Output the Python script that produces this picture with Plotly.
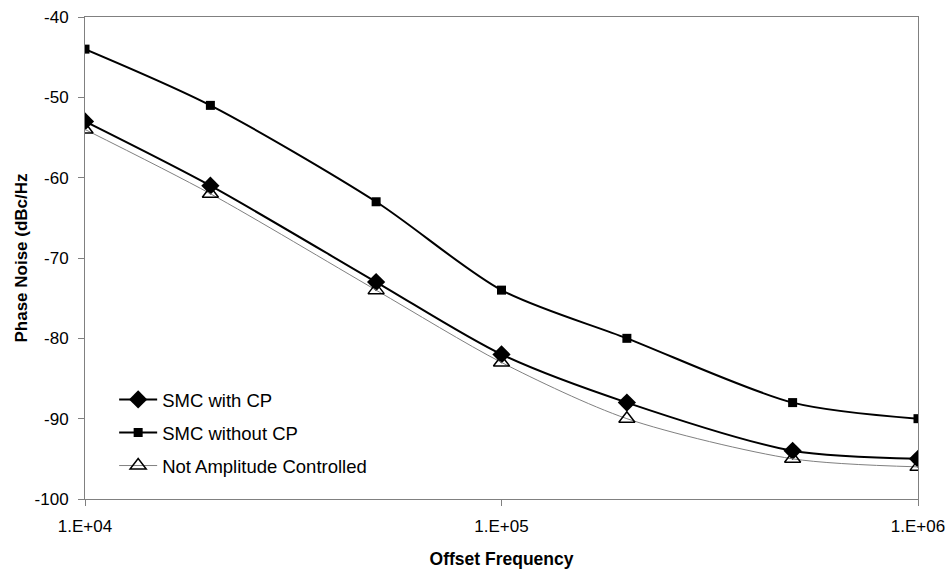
import plotly.graph_objects as go

freq = [1e4, 2e4, 5e4, 1e5, 2e5, 5e5, 1e6]
smc_with_cp = [-53, -61, -73, -82, -88, -94, -95]
smc_without_cp = [-44, -51, -63, -74, -80, -88, -90]
not_amp_ctrl = [-54, -62, -74, -83, -90, -95, -96]

x_ticks = [1e4, 1e5, 1e6]
x_tick_labels = ["1.E+04", "1.E+05", "1.E+06"]
y_ticks = [-100, -90, -80, -70, -60, -50, -40]
y_tick_labels = ["-100", "-90", "-80", "-70", "-60", "-50", "-40"]

fig = go.Figure()
fig.add_trace(go.Scatter(
    x=freq, y=smc_with_cp, name="SMC with CP", mode="lines+markers", legendgroup="a",
    line=dict(color="black", width=2, shape="spline", smoothing=0.8),
    marker=dict(symbol="diamond", size=14, color="black"),
))
fig.add_trace(go.Scatter(
    x=freq, y=smc_without_cp, name="SMC without CP", mode="lines+markers", legendgroup="b",
    line=dict(color="black", width=2, shape="spline", smoothing=0.8),
    marker=dict(symbol="square", size=9, color="black"),
))
fig.add_trace(go.Scatter(
    x=freq, y=not_amp_ctrl, name="Not Amplitude Controlled", mode="lines+markers", legendgroup="c",
    line=dict(color="#808080", width=1, shape="spline", smoothing=0.8),
    marker=dict(symbol="triangle-up-open", size=14, color="black", line=dict(width=1.5, color="black")),
))

font = "Liberation Sans, Arial, sans-serif"
fig.update_layout(
    width=948, height=569,
    margin=dict(l=85, r=30, t=17, b=70, autoexpand=False),
    paper_bgcolor="white", plot_bgcolor="white",
    font=dict(family=font, size=17, color="black"),
    showlegend=True,
    legend=dict(x=0.035, y=0.245, xanchor="left", yanchor="top",
                bgcolor="rgba(0,0,0,0)", font=dict(size=18.5, family=font),
                traceorder="grouped", tracegroupgap=6, itemwidth=38),
    xaxis=dict(
        type="log", range=[4, 6], tickvals=x_ticks, ticktext=x_tick_labels,
        showgrid=False, zeroline=False, showline=True, linecolor="#808080", linewidth=1,
        mirror=True, ticks="outside", ticklen=6, tickcolor="#808080",
        ticklabelstandoff=6, automargin=False,
        title=dict(text="<b>Offset Frequency</b>", font=dict(size=17.5), standoff=17),
        tickfont=dict(size=17),
    ),
    yaxis=dict(
        range=[-100, -40], tickvals=y_ticks, ticktext=y_tick_labels,
        showgrid=False, zeroline=False, showline=True, linecolor="#808080", linewidth=1,
        mirror=True, ticks="outside", ticklen=6, tickcolor="#808080",
        ticklabelstandoff=6, automargin=False,
        title=dict(text="<b>Phase Noise (dBc/Hz</b>", font=dict(size=17), standoff=2),
        tickfont=dict(size=17),
    ),
)

# remove the default page margin so the figure sits at the window's top-left corner
fig.write_html(
    "out.html",
    config={"displayModeBar": False},
    post_script="document.body.style.margin='0';document.body.style.overflow='hidden';",
)
